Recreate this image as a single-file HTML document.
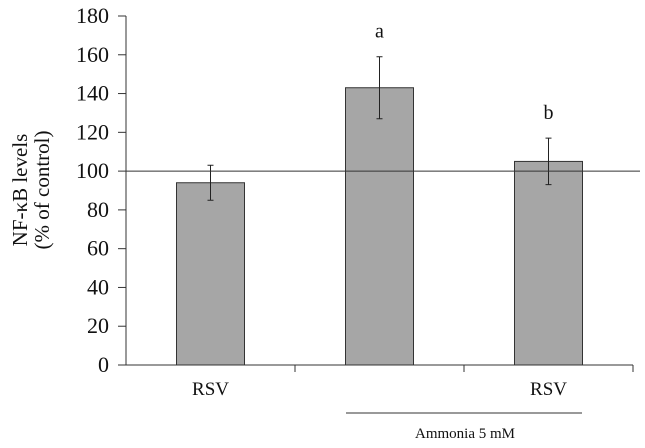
<!DOCTYPE html>
<html><head><meta charset="utf-8"><style>
html,body{margin:0;padding:0;background:#fff;}
svg, svg text{font-family:"Liberation Serif","Times New Roman",serif;}
</style></head><body>
<svg id="chart" width="645" height="443" viewBox="0 0 645 443" xmlns="http://www.w3.org/2000/svg" font-family="Liberation Serif, serif">
<g id="yt" transform="translate(31,190) rotate(-90)">
<text x="0" y="-4" text-anchor="middle" font-size="21" fill="#111" font-family="Liberation Serif, serif">NF-κB levels</text>
<text x="0" y="18" text-anchor="middle" font-size="21" fill="#111" font-family="Liberation Serif, serif">(% of control)</text>
</g>
<g id="axes"></g>
<g id="bars"></g>
</svg>
<script>
const categories = ["RSV", "Ammonia", "Ammonia+RSV"];
const values = [94, 143, 105];
const errLow = [85, 127, 93];
const errHigh = [103, 159, 117];
const sigLabels = ["", "a", "b"];
const xLabels = ["RSV", "", "RSV"];
const yTicks = [0, 20, 40, 60, 80, 100, 120, 140, 160, 180];
const refValue = 100;

const NS = "http://www.w3.org/2000/svg";
const FF = "Liberation Serif, serif";
const x0 = 126, x1 = 633, y0 = 365, yTop = 16, yMax = 180;
const catW = (x1 - x0) / categories.length;
const barW = 68;
const yS = v => y0 - (v / yMax) * (y0 - yTop);
const xC = i => x0 + catW * (i + 0.5);
function mk(tag, attrs, parent, text) {
  const e = document.createElementNS(NS, tag);
  for (const k in attrs) e.setAttribute(k, attrs[k]);
  if (text !== undefined) { e.textContent = text; e.setAttribute('font-family', FF); }
  parent.appendChild(e);
  return e;
}
const axes = document.getElementById('axes');
const bars = document.getElementById('bars');
let el = mk('line', {x1: x0, y1: yTop, x2: x0, y2: y0, stroke: '#333', 'stroke-width': 1}, axes);


yTicks.forEach(t => {
  const y = yS(t);
  const tk = mk('line', {x1: x0 - 8, y1: y, x2: x0, y2: y, stroke: '#333'}, axes);
  
  
  const lb = mk('text', {x: 109, y: y + 7, 'text-anchor': 'end', 'font-size': 22, fill: '#111'}, axes, t);
  
  
});
categories.forEach((c, i) => {
  const cx = xC(i);
  const r = mk('rect', {x: cx - barW / 2, y: yS(values[i]), width: barW, height: y0 - yS(values[i]), fill: '#a6a6a6', stroke: '#333', 'stroke-width': 1}, bars);
  
  
  const eb = mk('path', {d: `M${cx} ${yS(errLow[i])}V${yS(errHigh[i])}M${cx-3} ${yS(errLow[i])}H${cx+3}M${cx-3} ${yS(errHigh[i])}H${cx+3}`, stroke: '#222', fill: 'none'}, bars);
  
  
  if (sigLabels[i]) {
    const s = mk('text', {x: cx, y: yS(errHigh[i]) - 19, 'text-anchor': 'middle', 'font-size': 20, fill: '#111'}, bars, sigLabels[i]);
    
    
  }
  if (xLabels[i]) {
    const l = mk('text', {x: cx, y: 395, 'text-anchor': 'middle', 'font-size': 19, fill: '#111'}, axes, xLabels[i]);
    
    
  }
  const xt = mk('line', {x1: x0 + catW * (i + 1), y1: y0, x2: x0 + catW * (i + 1), y2: y0 + 7, stroke: '#333'}, axes);
  
  
});
el = mk('line', {x1: x0, y1: y0, x2: x1, y2: y0, stroke: '#333'}, axes);


el = mk('line', {x1: x0, y1: yS(refValue), x2: 640, y2: yS(refValue), stroke: '#333'}, bars);


el = mk('line', {x1: 346, y1: 413, x2: 582, y2: 413, stroke: '#333'}, axes);


el = mk('text', {x: 465, y: 438, 'text-anchor': 'middle', 'font-size': 15, fill: '#111'}, axes, 'Ammonia 5 mM');


</script>
</body></html>
